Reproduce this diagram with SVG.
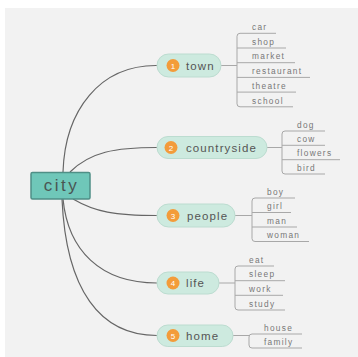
<svg xmlns="http://www.w3.org/2000/svg" width="358" height="357" viewBox="0 0 358 357">
<style>
.bg{fill:#f2f2f2}
.curve{fill:none;stroke:#666;stroke-width:1.2}
.br{fill:none;stroke:#a8a8a8;stroke-width:1}
.ul{stroke:#a8a8a8;stroke-width:1}
.leaf{font-family:"Liberation Sans",Arial,sans-serif;font-size:8.3px;letter-spacing:1.3px;fill:#777}
.pill{fill:#cdeadf;stroke:#bcdcd0;stroke-width:1}
.num{fill:#f39c3a}
.numt{font-family:"Liberation Sans",Arial,sans-serif;font-size:8px;fill:#fff;text-anchor:middle}
.lbl{font-family:"Liberation Sans",Arial,sans-serif;font-size:11.5px;letter-spacing:1.1px;fill:#555}
.root{fill:#6fc7b9;stroke:#4f8f86;stroke-width:1.5}
.roott{font-family:"Liberation Sans",Arial,sans-serif;font-size:17px;letter-spacing:2.5px;fill:#4a5553;text-anchor:middle}
</style>
<rect class="bg" x="5" y="8" width="353" height="349"/>
<g id="connectors">
<path class="curve" d="M63,172 C65,110 100,65 157,65.5"/>
<path class="curve" d="M70,172 C90,152 115,147.5 157,147.5"/>
<path class="curve" d="M73,199 C95,212 115,215.5 157,215.5"/>
<path class="curve" d="M63,199 C68,250 100,283 157,283"/>
<path class="curve" d="M62,199 C66,290 100,335.5 157,335.5"/>
<path class="br" d="M221,65.5 H237 M240,33.3 Q237,33.3 237,36.3 V103.8 Q237,106.8 240,106.8"/>
<path class="br" d="M267,147.5 H282 M285,131 Q282,131 282,134 V171 Q282,174 285,174"/>
<path class="br" d="M235,215.5 H252 M255,198 Q252,198 252,201 V238.5 Q252,241.5 255,241.5"/>
<path class="br" d="M219,283 H235 M238,266 Q235,266 235,269 V307 Q235,310 238,310"/>
<path class="br" d="M233,335.5 H249 M252,334 Q249,334 249,337 V345 Q249,348 252,348"/>
</g>
<g id="city">
<rect class="root" x="31" y="172.5" width="59" height="26.5" rx="1.5"/>
<text class="roott" x="61.5" y="191">city</text>
</g>
<g id="town">
<rect class="pill" x="157" y="54" width="64" height="23" rx="11.5"/>
<circle class="num" cx="173" cy="65.5" r="6.5"/>
<text class="numt" x="173" y="68.5">1</text>
<text class="lbl" x="186" y="69.5">town</text>
</g>
<g id="countryside">
<rect class="pill" x="157" y="136.5" width="110" height="22" rx="11"/>
<circle class="num" cx="171" cy="147.5" r="6.5"/>
<text class="numt" x="171" y="150.5">2</text>
<text class="lbl" x="186" y="151.5">countryside</text>
</g>
<g id="people">
<rect class="pill" x="157" y="204" width="78" height="23" rx="11.5"/>
<circle class="num" cx="173" cy="215.5" r="6.5"/>
<text class="numt" x="173" y="218.5">3</text>
<text class="lbl" x="187" y="219.5">people</text>
</g>
<g id="life">
<rect class="pill" x="157" y="272" width="62" height="22" rx="11"/>
<circle class="num" cx="173" cy="283" r="6.5"/>
<text class="numt" x="173" y="286">4</text>
<text class="lbl" x="186" y="287">life</text>
</g>
<g id="home">
<rect class="pill" x="157" y="325" width="76" height="21.5" rx="10.75"/>
<circle class="num" cx="173" cy="335.5" r="6.5"/>
<text class="numt" x="173" y="338.5">5</text>
<text class="lbl" x="186" y="339.5">home</text>
</g>
<g id="town-leaves">
<line class="ul" x1="240" y1="33.3" x2="276" y2="33.3"/><text class="leaf" x="252" y="30">car</text>
<line class="ul" x1="237" y1="48" x2="286" y2="48"/><text class="leaf" x="252" y="44.7">shop</text>
<line class="ul" x1="237" y1="62.7" x2="295" y2="62.7"/><text class="leaf" x="252" y="59.4">market</text>
<line class="ul" x1="237" y1="77.4" x2="310" y2="77.4"/><text class="leaf" x="252" y="74.1">restaurant</text>
<line class="ul" x1="237" y1="92.1" x2="296" y2="92.1"/><text class="leaf" x="252" y="88.8">theatre</text>
<line class="ul" x1="240" y1="106.8" x2="293" y2="106.8"/><text class="leaf" x="252" y="103.5">school</text>
</g>
<g id="countryside-leaves">
<line class="ul" x1="285" y1="131" x2="325" y2="131"/><text class="leaf" x="297" y="127.7">dog</text>
<line class="ul" x1="282" y1="145.3" x2="325" y2="145.3"/><text class="leaf" x="297" y="142">cow</text>
<line class="ul" x1="282" y1="159.7" x2="340" y2="159.7"/><text class="leaf" x="297" y="156.4">flowers</text>
<line class="ul" x1="285" y1="174" x2="325" y2="174"/><text class="leaf" x="297" y="170.7">bird</text>
</g>
<g id="people-leaves">
<line class="ul" x1="255" y1="198" x2="295" y2="198"/><text class="leaf" x="267" y="194.7">boy</text>
<line class="ul" x1="252" y1="212.5" x2="291" y2="212.5"/><text class="leaf" x="267" y="209.2">girl</text>
<line class="ul" x1="252" y1="227" x2="297" y2="227"/><text class="leaf" x="267" y="223.7">man</text>
<line class="ul" x1="255" y1="241.5" x2="309" y2="241.5"/><text class="leaf" x="267" y="238.2">woman</text>
</g>
<g id="life-leaves">
<line class="ul" x1="238" y1="266" x2="274" y2="266"/><text class="leaf" x="249" y="262.7">eat</text>
<line class="ul" x1="235" y1="280.7" x2="285" y2="280.7"/><text class="leaf" x="249" y="277.4">sleep</text>
<line class="ul" x1="235" y1="295.3" x2="283" y2="295.3"/><text class="leaf" x="249" y="292">work</text>
<line class="ul" x1="238" y1="310" x2="285" y2="310"/><text class="leaf" x="249" y="306.7">study</text>
</g>
<g id="home-leaves">
<line class="ul" x1="252" y1="334" x2="302" y2="334"/><text class="leaf" x="264" y="330.7">house</text>
<line class="ul" x1="252" y1="348" x2="302" y2="348"/><text class="leaf" x="264" y="344.7">family</text>
</g>
</svg>
